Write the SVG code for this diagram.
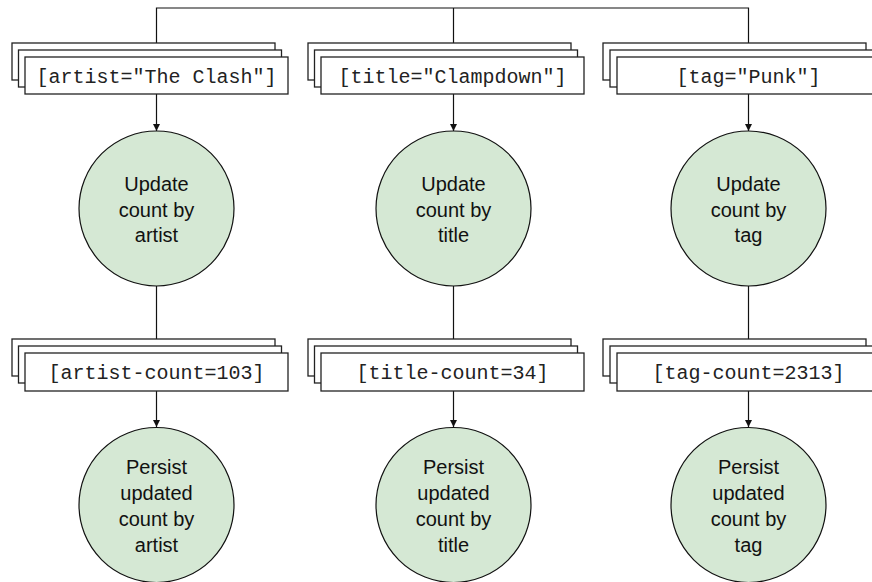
<svg xmlns="http://www.w3.org/2000/svg" width="872" height="582" viewBox="0 0 872 582">
<style>
.box{fill:#fff;stroke:#222;stroke-width:1.3}
.circ{fill:#d5e8d4;stroke:#111;stroke-width:1.2}
.mono{font-family:"Liberation Mono",monospace;font-size:20px;fill:#222;text-anchor:middle}
.sans{font-family:"Liberation Sans",Arial,sans-serif;font-size:20px;fill:#111;text-anchor:middle}
.ln{stroke:#111;stroke-width:1.2;fill:none}
</style>
<defs>
<marker id="arr" markerWidth="8" markerHeight="8" refX="7" refY="4" orient="auto" markerUnits="userSpaceOnUse">
<path d="M0,0.5 L7,4 L0,7.5 Z" fill="#111"/>
</marker>
</defs>
<g id="connectors">
<path class="ln" d="M156.5,43 V8 H748.5 V43 M453.5,8 V43"/>
<line class="ln" x1="156.5" y1="94" x2="156.5" y2="131" marker-end="url(#arr)"/>
<line class="ln" x1="453.5" y1="94" x2="453.5" y2="131" marker-end="url(#arr)"/>
<line class="ln" x1="748.5" y1="94" x2="748.5" y2="131" marker-end="url(#arr)"/>
<line class="ln" x1="156.5" y1="286" x2="156.5" y2="339"/>
<line class="ln" x1="453.5" y1="286" x2="453.5" y2="339"/>
<line class="ln" x1="748.5" y1="286" x2="748.5" y2="339"/>
<line class="ln" x1="156.5" y1="391" x2="156.5" y2="427" marker-end="url(#arr)"/>
<line class="ln" x1="453.5" y1="391" x2="453.5" y2="427" marker-end="url(#arr)"/>
<line class="ln" x1="748.5" y1="391" x2="748.5" y2="427" marker-end="url(#arr)"/>
</g>
<g id="artist-filter">
<rect class="box" x="12" y="43" width="263" height="37"/>
<rect class="box" x="18.5" y="50" width="263" height="37"/>
<rect class="box" x="25" y="57" width="263" height="37"/>
<text class="mono" x="156.5" y="83">[artist="The Clash"]</text>
</g>
<g id="title-filter">
<rect class="box" x="308" y="43" width="263" height="37"/>
<rect class="box" x="314.5" y="50" width="263" height="37"/>
<rect class="box" x="321" y="57" width="263" height="37"/>
<text class="mono" x="452.5" y="83">[title="Clampdown"]</text>
</g>
<g id="tag-filter">
<rect class="box" x="603" y="43" width="263" height="37"/>
<rect class="box" x="610" y="50" width="263" height="37"/>
<rect class="box" x="617" y="57" width="263" height="37"/>
<text class="mono" x="748.5" y="83">[tag="Punk"]</text>
</g>
<g id="update-artist">
<circle class="circ" cx="156.5" cy="208.5" r="77.5"/>
<text class="sans" x="156.5" y="191">Update</text>
<text class="sans" x="156.5" y="216.5">count by</text>
<text class="sans" x="156.5" y="242">artist</text>
</g>
<g id="update-title">
<circle class="circ" cx="453.5" cy="208.5" r="77.5"/>
<text class="sans" x="453.5" y="191">Update</text>
<text class="sans" x="453.5" y="216.5">count by</text>
<text class="sans" x="453.5" y="242">title</text>
</g>
<g id="update-tag">
<circle class="circ" cx="748.5" cy="208.5" r="77.5"/>
<text class="sans" x="748.5" y="191">Update</text>
<text class="sans" x="748.5" y="216.5">count by</text>
<text class="sans" x="748.5" y="242">tag</text>
</g>
<g id="artist-count">
<rect class="box" x="12" y="339" width="263" height="37"/>
<rect class="box" x="18.5" y="346" width="263" height="37"/>
<rect class="box" x="25" y="353" width="263" height="38"/>
<text class="mono" x="156.5" y="379">[artist-count=103]</text>
</g>
<g id="title-count">
<rect class="box" x="308" y="339" width="263" height="37"/>
<rect class="box" x="314.5" y="346" width="263" height="37"/>
<rect class="box" x="321" y="353" width="263" height="38"/>
<text class="mono" x="452.5" y="379">[title-count=34]</text>
</g>
<g id="tag-count">
<rect class="box" x="603" y="339" width="263" height="37"/>
<rect class="box" x="610" y="346" width="263" height="37"/>
<rect class="box" x="617" y="353" width="263" height="38"/>
<text class="mono" x="748.5" y="379">[tag-count=2313]</text>
</g>
<g id="persist-artist">
<circle class="circ" cx="156.5" cy="505" r="77.5"/>
<text class="sans" x="156.5" y="474">Persist</text>
<text class="sans" x="156.5" y="500">updated</text>
<text class="sans" x="156.5" y="526">count by</text>
<text class="sans" x="156.5" y="552">artist</text>
</g>
<g id="persist-title">
<circle class="circ" cx="453.5" cy="505" r="77.5"/>
<text class="sans" x="453.5" y="474">Persist</text>
<text class="sans" x="453.5" y="500">updated</text>
<text class="sans" x="453.5" y="526">count by</text>
<text class="sans" x="453.5" y="552">title</text>
</g>
<g id="persist-tag">
<circle class="circ" cx="748.5" cy="505" r="77.5"/>
<text class="sans" x="748.5" y="474">Persist</text>
<text class="sans" x="748.5" y="500">updated</text>
<text class="sans" x="748.5" y="526">count by</text>
<text class="sans" x="748.5" y="552">tag</text>
</g>
</svg>
